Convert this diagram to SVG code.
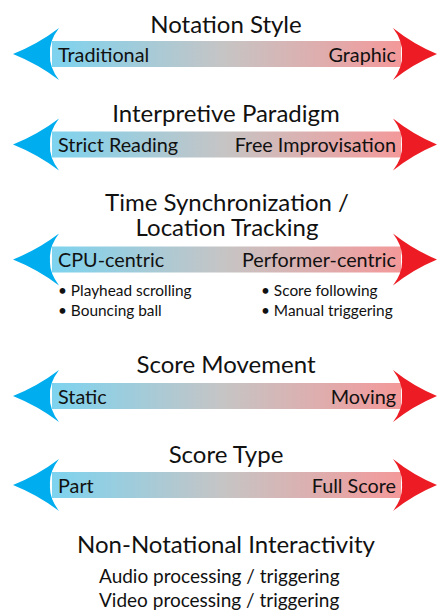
<svg xmlns="http://www.w3.org/2000/svg" width="438" height="612" viewBox="0 0 438 612">
<style>
.title{font-family:Lato,"Liberation Sans",sans-serif;font-size:24px;fill:#111;text-anchor:middle}
.lab{font-family:Lato,"Liberation Sans",sans-serif;font-size:19.8px;fill:#111}
.labr{font-family:Lato,"Liberation Sans",sans-serif;font-size:19.8px;fill:#111;text-anchor:end}
.bul{font-family:Lato,"Liberation Sans",sans-serif;font-size:15.4px;fill:#111}
.sub{font-family:Lato,"Liberation Sans",sans-serif;font-size:19px;fill:#111}
.hl{fill:#00adee}
.hr{fill:#ed1c24}
</style>
<defs>
<linearGradient id="sh" x1="52" y1="0" x2="400" y2="0" gradientUnits="userSpaceOnUse">
<stop offset="0" stop-color="#7dd3ef"/>
<stop offset="0.5" stop-color="#c7c4c4"/>
<stop offset="1" stop-color="#f3999a"/>
</linearGradient>
<g id="arrow">
<rect x="52" y="-13" width="349" height="26" fill="url(#sh)"/>
<path class="hl" d="M13,0 Q38,-10 59,-26 Q49,-13 50,0 Q49,13 59,26 Q38,10 13,0 Z"/>
<path class="hr" d="M437,0 Q413,-10 393,-26 Q403,-13 402,0 Q403,13 393,26 Q413,10 437,0 Z"/>
</g>
</defs>
<g id="connectors">
<use href="#arrow" transform="translate(0,54)"/>
<use href="#arrow" transform="translate(0,144.5)"/>
<use href="#arrow" transform="translate(0,259.5)"/>
<use href="#arrow" transform="translate(0,396)"/>
<use href="#arrow" transform="translate(0,485)"/>
</g>
<g id="notation">
<text class="title" x="226" y="33">Notation Style</text>
<text class="lab" x="58" y="61.5">Traditional</text>
<text class="labr" x="396" y="61.5">Graphic</text>
</g>
<g id="interpretive">
<text class="title" x="226" y="122">Interpretive Paradigm</text>
<text class="lab" x="58" y="152">Strict Reading</text>
<text class="labr" x="396" y="152">Free Improvisation</text>
</g>
<g id="timesync">
<text class="title"><tspan x="227" y="211">Time Synchronization /</tspan><tspan x="227" y="235.5">Location Tracking</tspan></text>
<text class="lab" x="58" y="267">CPU-centric</text>
<text class="labr" x="396" y="267">Performer-centric</text>
<text class="bul" x="58" y="296">• Playhead scrolling</text>
<text class="bul" x="58" y="315.5">• Bouncing ball</text>
<text class="bul" x="261" y="296">• Score following</text>
<text class="bul" x="261" y="315.5">• Manual triggering</text>
</g>
<g id="movement">
<text class="title" x="226" y="373">Score Movement</text>
<text class="lab" x="58" y="403.5">Static</text>
<text class="labr" x="396" y="403.5">Moving</text>
</g>
<g id="scoretype">
<text class="title" x="226" y="463">Score Type</text>
<text class="lab" x="58" y="492.5">Part</text>
<text class="labr" x="396" y="492.5">Full Score</text>
</g>
<g id="nonnotational">
<text class="title" x="226" y="553">Non-Notational Interactivity</text>
<text class="sub" x="99" y="583">Audio processing / triggering</text>
<text class="sub" x="99" y="607">Video processing / triggering</text>
</g>
</svg>
